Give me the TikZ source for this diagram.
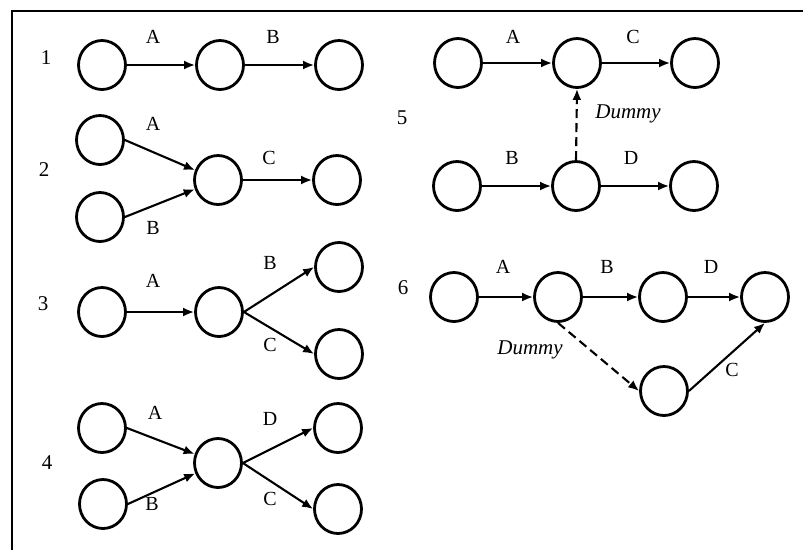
\documentclass[tikz,border=0pt]{standalone}
\usepackage{fontspec}
\setmainfont{Liberation Serif}
\usetikzlibrary{arrows.meta,shapes.geometric}
\begin{document}
\begin{tikzpicture}[x=1pt,y=-1pt,
  ev/.style={draw,ellipse,line width=2.8pt,minimum width=47pt,minimum height=49pt,inner sep=0pt},
  lbl/.style={inner sep=0pt,font=\fontsize{20}{24}\selectfont},
  num/.style={inner sep=0pt,font=\fontsize{21}{25}\selectfont},
  act/.style={line width=2.1pt,-{Latex[length=11pt,width=9pt]}},
  dum/.style={act,dash pattern=on 9pt off 5pt}]
\useasboundingbox (0,0) rectangle (803,550);
\draw[line width=2pt] (12,550) -- (12,11) -- (803,11);
% row 1
\node[ev] (n11) at (102,65) {};
\node[ev] (n12) at (220,65) {};
\node[ev] (n13) at (339,65) {};
\node[num] (k1) at (46,58) {1};
\node[lbl] (l11) at (153,37) {A};
\node[lbl] (l12) at (273,37) {B};
\draw[act] (n11.east) -- (n12.west);
\draw[act] (n12.east) -- (n13.west);
% row 2
\node[ev] (n21) at (100,140) {};
\node[ev] (n22) at (100,217) {};
\node[ev] (n23) at (218,180) {};
\node[ev] (n24) at (337,180) {};
\node[num] (k2) at (44,170) {2};
\node[lbl] (l21) at (153,124) {A};
\node[lbl] (l22) at (269,158) {C};
\node[lbl] (l23) at (153,228) {B};
\draw[act] (n21.east) -- (n23);
\draw[act] (n22.east) -- (n23);
\draw[act] (n23.east) -- (n24.west);
% row 3
\node[ev] (n31) at (102,312) {};
\node[ev] (n32) at (219,312) {};
\node[ev] (n33) at (339,267) {};
\node[ev] (n34) at (339,354) {};
\node[num] (k3) at (43,304) {3};
\node[lbl] (l31) at (153,281) {A};
\node[lbl] (l32) at (270,263) {B};
\node[lbl] (l33) at (270,345) {C};
\draw[act] (n31.east) -- (n32.west);
\draw[act] (n32.east) -- (n33.west);
\draw[act] (n32.east) -- (n34.west);
% row 4
\node[ev] (n41) at (102,428) {};
\node[ev] (n42) at (103,504) {};
\node[ev] (n43) at (218,463) {};
\node[ev] (n44) at (338,428) {};
\node[ev] (n45) at (338,509) {};
\node[num] (k4) at (47,463) {4};
\node[lbl] (l41) at (155,413) {A};
\node[lbl] (l42) at (270,419) {D};
\node[lbl] (l43) at (152,504) {B};
\node[lbl] (l44) at (270,499) {C};
\draw[act] (n41.east) -- (n43);
\draw[act] (n42.east) -- (n43);
\draw[act] (n43.east) -- (n44.west);
\draw[act] (n43.east) -- (n45.west);
% row 5
\node[ev] (n51) at (458,63) {};
\node[ev] (n52) at (577,63) {};
\node[ev] (n53) at (695,63) {};
\node[ev] (n54) at (457,186) {};
\node[ev] (n55) at (576,186) {};
\node[ev] (n56) at (694,186) {};
\node[num] (k5) at (402,118) {5};
\node[lbl] (l51) at (513,37) {A};
\node[lbl] (l52) at (633,37) {C};
\node[lbl,font=\fontsize{21}{25}\selectfont\itshape] (l53) at (628,114) {Dummy};
\node[lbl] (l54) at (512,158) {B};
\node[lbl] (l55) at (631,158) {D};
\draw[act] (n51.east) -- (n52.west);
\draw[act] (n52.east) -- (n53.west);
\draw[act] (n54.east) -- (n55.west);
\draw[act] (n55.east) -- (n56.west);
\draw[dum] (n55.north) -- (n52.south);
% row 6
\node[ev] (n61) at (454,297) {};
\node[ev] (n62) at (558,297) {};
\node[ev] (n63) at (663,297) {};
\node[ev] (n64) at (765,297) {};
\node[ev] (n65) at (664,391) {};
\node[num] (k6) at (403,288) {6};
\node[lbl] (l61) at (503,267) {A};
\node[lbl] (l62) at (607,267) {B};
\node[lbl] (l63) at (711,267) {D};
\node[lbl,font=\fontsize{21}{25}\selectfont\itshape] (l64) at (530,350) {Dummy};
\node[lbl] (l65) at (732,370) {C};
\draw[act] (n61.east) -- (n62.west);
\draw[act] (n62.east) -- (n63.west);
\draw[act] (n63.east) -- (n64.west);
\draw[dum] (n62.south) -- (n65.west);
\draw[act] (n65.east) -- (n64.south);
\end{tikzpicture}
\end{document}
